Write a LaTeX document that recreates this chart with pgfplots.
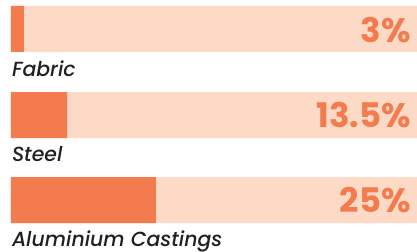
\documentclass[border=0pt]{standalone}
\usepackage{pgfplots}
\pgfplotsset{compat=1.18}
\usepackage{fontspec}
\setmainfont{Poppins}[ItalicFont={Poppins Medium Italic}]
\definecolor{barfill}{RGB}{244,123,77}
\definecolor{barbg}{RGB}{252,218,198}
\definecolor{lab}{RGB}{35,31,32}
\begin{document}
\begin{tikzpicture}
\begin{axis}[
  width=417bp, height=252bp, scale only axis,
  xmin=-2.709, xmax=100,
  ymin=0, ymax=252, y dir=reverse,
  hide axis, clip=false,
  xbar, bar shift=0pt, bar width=46,
]
\path (rel axis cs:0,0) rectangle (rel axis cs:1,1);
% background tracks (full width)
\addplot[draw=none, fill=barbg] coordinates {(100,29) (100,115) (100,200)};
% filled portions (visual lengths as drawn)
\addplot[draw=none, fill=barfill] coordinates {(3.2,29) (13.8,115) (35.7,200)};
% category labels
\node[anchor=base west, font=\itshape\fontsize{20.5}{20.5}\selectfont, text=lab, inner sep=0pt] at (axis cs:0.2,76) {Fabric};
\node[anchor=base west, font=\itshape\fontsize{20.5}{20.5}\selectfont, text=lab, inner sep=0pt] at (axis cs:0.2,161) {Steel};
\node[anchor=base west, font=\itshape\fontsize{20.5}{20.5}\selectfont, text=lab, inner sep=0pt] at (axis cs:0.2,246) {Aluminium Castings};
% value labels
\node[anchor=base east, font=\bfseries\fontsize{34}{34}\selectfont, text=barfill, inner sep=0pt] at (axis cs:98.5,42) {3\%};
\node[anchor=base east, font=\bfseries\fontsize{34}{34}\selectfont, text=barfill, inner sep=0pt] at (axis cs:98.5,127) {13.5\%};
\node[anchor=base east, font=\bfseries\fontsize{34}{34}\selectfont, text=barfill, inner sep=0pt] at (axis cs:98.5,212) {25\%};
\end{axis}
\end{tikzpicture}
\end{document}
